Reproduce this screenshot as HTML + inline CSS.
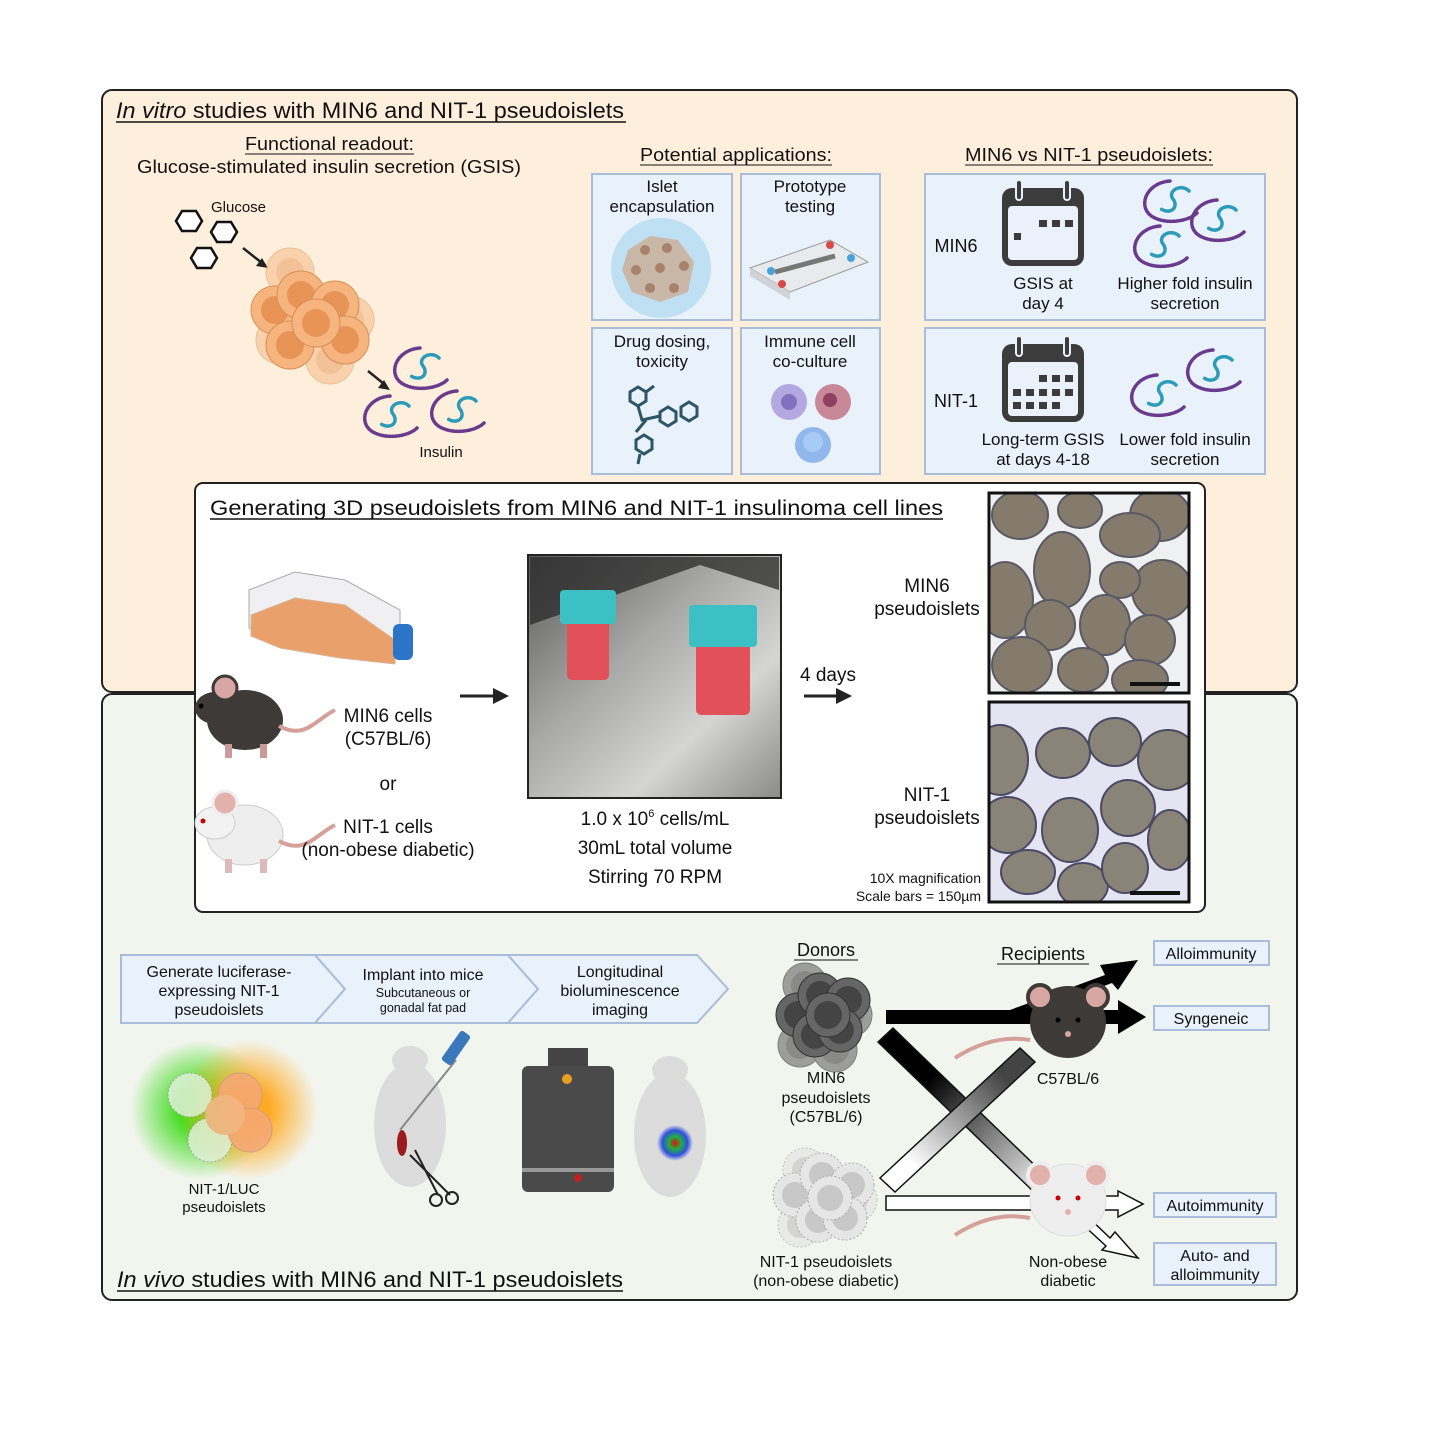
<!DOCTYPE html>
<html><head><meta charset="utf-8"><style>
html,body{margin:0;padding:0;background:#fff}
svg{display:block}
text{font-family:"Liberation Sans",Arial,sans-serif;fill:#111}
</style></head><body>
<svg width="1430" height="1430" viewBox="0 0 1430 1430" xmlns="http://www.w3.org/2000/svg">
<defs>
<clipPath id="c1"><rect x="989" y="493" width="200" height="200"/></clipPath>
<clipPath id="c2"><rect x="989" y="702" width="200" height="200"/></clipPath>
<g id="ins">
 <path d="M-5,-22 C-30,-20 -38,5 -22,14 C-8,22 14,18 22,10" fill="none" stroke="#6a3a8c" stroke-width="3.5" stroke-dasharray="1.6 1.6" stroke-linecap="round"/>
 <path d="M14,-12 C6,-20 -8,-12 -2,-4 C4,4 -4,12 -14,6" fill="none" stroke="#2a9bb8" stroke-width="3.5" stroke-dasharray="1.6 1.4" stroke-linecap="round"/>
</g>
<g id="cell"><circle r="24" fill="#f6b47e" stroke="#d98e55" stroke-width="1"/><circle r="14" fill="#e89457"/></g>
<g id="gcell"><circle r="22" fill="#666" stroke="#333" stroke-width="1"/><circle r="14" fill="#444"/></g>
<g id="wcell"><circle r="22" fill="#e6e6e6" stroke="#aaa" stroke-width="1" stroke-dasharray="2 2"/><circle r="13" fill="#c8c8c8"/></g>
<g id="mouseD">
 <ellipse cx="0" cy="0" rx="38" ry="30" fill="#3e3a38"/>
 <ellipse cx="-30" cy="-12" rx="20" ry="16" fill="#3e3a38"/>
 <circle cx="-20" cy="-32" r="12" fill="#d9a7a3" stroke="#3e3a38" stroke-width="3"/>
 <circle cx="-44" cy="-14" r="2.5" fill="#000"/>
 <path d="M34,6 C60,20 70,0 90,-10" fill="none" stroke="#d6a09a" stroke-width="4"/>
 <rect x="-20" y="24" width="7" height="14" fill="#c99"/><rect x="15" y="24" width="7" height="14" fill="#c99"/>
</g>
<g id="mouseW">
 <ellipse cx="0" cy="0" rx="38" ry="30" fill="#eee" stroke="#ccc"/>
 <ellipse cx="-30" cy="-12" rx="20" ry="16" fill="#f2f2f2" stroke="#ccc"/>
 <circle cx="-20" cy="-32" r="12" fill="#e2b1ac" stroke="#eee" stroke-width="3"/>
 <circle cx="-42" cy="-14" r="2.5" fill="#c00"/>
 <path d="M34,6 C60,20 70,0 90,-10" fill="none" stroke="#d6a09a" stroke-width="4"/>
 <rect x="-20" y="24" width="7" height="14" fill="#dbb"/><rect x="15" y="24" width="7" height="14" fill="#dbb"/>
</g>
<g id="mouseF">
 <ellipse cx="0" cy="5" rx="44" ry="42"/>
 <circle cx="-30" cy="-30" r="14" fill="#d9a7a3" stroke="inherit" stroke-width="4"/>
 <circle cx="30" cy="-30" r="14" fill="#d9a7a3" stroke-width="4"/>
 <path d="M-40,20 C-80,10 -100,30 -115,40" fill="none" stroke="#d6a09a" stroke-width="4"/>
</g>
<g id="cal">
 <rect x="0" y="8" width="82" height="78" rx="10" fill="#3c3c3c"/>
 <rect x="6" y="26" width="70" height="54" rx="4" fill="#eaf1fb"/>
 <rect x="14" y="0" width="6" height="20" rx="3" fill="#3c3c3c" stroke="#eaf1fb" stroke-width="2"/>
 <rect x="62" y="0" width="6" height="20" rx="3" fill="#3c3c3c" stroke="#eaf1fb" stroke-width="2"/>
</g>
<linearGradient id="bw" x1="0" y1="0" x2="1" y2="1"><stop offset="0.3" stop-color="#000"/><stop offset="1" stop-color="#fff"/></linearGradient>
<linearGradient id="wb" x1="0" y1="1" x2="1" y2="0"><stop offset="0.2" stop-color="#fff"/><stop offset="0.8" stop-color="#444"/></linearGradient>
<radialGradient id="green"><stop offset="0.3" stop-color="#44dd22"/><stop offset="1" stop-color="#44dd22" stop-opacity="0"/></radialGradient>
<radialGradient id="orange"><stop offset="0.3" stop-color="#ffaa22"/><stop offset="1" stop-color="#ffaa22" stop-opacity="0"/></radialGradient>
<radialGradient id="biolum"><stop offset="0" stop-color="#e01010"/><stop offset="0.35" stop-color="#20b040"/><stop offset="0.7" stop-color="#3050e0"/><stop offset="1" stop-color="#3050e0" stop-opacity="0"/></radialGradient>
<linearGradient id="photo" x1="0" y1="0" x2="1" y2="1"><stop offset="0" stop-color="#5a5a5a"/><stop offset="0.4" stop-color="#a8a8a6"/><stop offset="0.7" stop-color="#d5d5d3"/><stop offset="1" stop-color="#8a8a88"/></linearGradient>
</defs>

<rect x="102" y="90" width="1195" height="602" rx="10" fill="#feefdc" stroke="#222" stroke-width="2"/>
<rect x="102" y="694" width="1195" height="606" rx="10" fill="#f2f5ee" stroke="#222" stroke-width="2"/>

<text x="116" y="118" font-size="22" textLength="508" lengthAdjust="spacingAndGlyphs"><tspan font-style="italic">In vitro</tspan> studies with MIN6 and NIT-1 pseudoislets</text>
<line x1="116" y1="122" x2="626" y2="122" stroke="#111" stroke-width="1.5"/>

<text x="245" y="150" font-size="18" textLength="169" lengthAdjust="spacingAndGlyphs">Functional readout:</text>
<line x1="245" y1="154" x2="414" y2="154" stroke="#111" stroke-width="1"/>
<text x="137" y="173" font-size="18" textLength="384" lengthAdjust="spacingAndGlyphs">Glucose-stimulated insulin secretion (GSIS)</text>

<text x="211" y="212" font-size="15">Glucose</text>
<g fill="#fff" stroke="#111" stroke-width="2.5">
<polygon points="176,221 182,211 196,211 202,221 196,231 182,231"/>
<polygon points="211,232 217,222 231,222 237,232 231,242 217,242"/>
<polygon points="191,258 197,248 211,248 217,258 211,268 197,268"/>
</g>
<line x1="243" y1="248" x2="262" y2="263" stroke="#222" stroke-width="2.5"/>
<polygon points="268,268 256,266 262,258" fill="#222"/>

<g opacity="0.5"><use href="#cell" x="290" y="272"/><use href="#cell" x="350" y="320"/><use href="#cell" x="280" y="340"/><use href="#cell" x="330" y="360"/></g>
<use href="#cell" x="275" y="310"/><use href="#cell" x="301" y="295"/><use href="#cell" x="335" y="305"/>
<use href="#cell" x="290" y="345"/><use href="#cell" x="345" y="340"/><use href="#cell" x="316" y="323"/>

<line x1="368" y1="371" x2="384" y2="384" stroke="#222" stroke-width="2.5"/>
<polygon points="390,390 378,388 384,380" fill="#222"/>
<use href="#ins" x="425" y="370"/><use href="#ins" x="395" y="418"/><use href="#ins" x="462" y="413"/>
<text x="441" y="457" font-size="15" text-anchor="middle">Insulin</text>

<text x="640" y="161" font-size="18" textLength="192" lengthAdjust="spacingAndGlyphs">Potential applications:</text>
<line x1="640" y1="165" x2="832" y2="165" stroke="#111" stroke-width="1"/>
<g fill="#e9f1fb" stroke="#a9bcd9" stroke-width="2">
<rect x="592" y="174" width="140" height="146"/><rect x="741" y="174" width="139" height="146"/>
<rect x="592" y="328" width="140" height="146"/><rect x="741" y="328" width="139" height="146"/>
<rect x="925" y="174" width="340" height="146"/><rect x="925" y="328" width="340" height="146"/>
</g>
<g font-size="17" text-anchor="middle">
<text x="662" y="192">Islet</text><text x="662" y="212">encapsulation</text>
<text x="810" y="192">Prototype</text><text x="810" y="212">testing</text>
<text x="662" y="347">Drug dosing,</text><text x="662" y="367">toxicity</text>
<text x="810" y="347">Immune cell</text><text x="810" y="367">co-culture</text>
</g>
<circle cx="661" cy="268" r="50" fill="#bfe0f3"/>
<polygon points="628,250 650,236 678,240 694,262 688,292 660,302 632,292 622,270" fill="#c9b8a8"/>
<g fill="#a8826a"><circle cx="645" cy="250" r="5"/><circle cx="667" cy="248" r="5"/><circle cx="636" cy="270" r="5"/><circle cx="660" cy="268" r="5"/><circle cx="684" cy="266" r="5"/><circle cx="650" cy="288" r="5"/><circle cx="674" cy="288" r="5"/></g>
<polygon points="750,268 830,240 868,262 790,292" fill="#e8eaee" stroke="#999"/>
<polygon points="750,268 790,292 790,300 750,276" fill="#d0d3d8"/>
<line x1="775" y1="272" x2="835" y2="256" stroke="#777" stroke-width="5"/>
<circle cx="771" cy="271" r="4" fill="#4aa3d8"/><circle cx="782" cy="284" r="4" fill="#d84a4a"/><circle cx="830" cy="245" r="4" fill="#d84a4a"/><circle cx="851" cy="258" r="4" fill="#4aa3d8"/>
<g fill="none" stroke="#2d5566" stroke-width="3">
<polygon points="630,392 638,387 646,392 646,401 638,406 630,401"/>
<polygon points="660,412 668,407 676,412 676,421 668,426 660,421"/>
<polygon points="681,407 689,402 697,407 697,416 689,421 681,416"/>
<polygon points="636,440 644,435 652,440 652,449 644,454 636,449"/>
<path d="M638,406 L642,420 L660,416 M646,420 L636,432 M640,454 L638,464 M646,392 L654,386"/>
</g>
<circle cx="789" cy="402" r="18" fill="#b4a8e0"/><circle cx="789" cy="402" r="8" fill="#8070c0"/>
<circle cx="833" cy="402" r="18" fill="#c88898"/><circle cx="830" cy="400" r="7" fill="#904060"/>
<circle cx="813" cy="445" r="18" fill="#90b8ec"/><circle cx="813" cy="442" r="10" fill="#a8cbf5"/>

<text x="965" y="161" font-size="18" textLength="248" lengthAdjust="spacingAndGlyphs">MIN6 vs NIT-1 pseudoislets:</text>
<line x1="965" y1="165" x2="1213" y2="165" stroke="#111" stroke-width="1"/>
<text x="956" y="252" font-size="18" text-anchor="middle">MIN6</text>
<text x="956" y="407" font-size="18" text-anchor="middle">NIT-1</text>
<use href="#cal" x="1002" y="180"/>
<g fill="#3c3c3c"><rect x="1039" y="220" width="8" height="7"/><rect x="1052" y="220" width="8" height="7"/><rect x="1065" y="220" width="8" height="7"/><rect x="1014" y="233" width="7" height="7"/></g>
<use href="#cal" x="1002" y="336"/>
<g fill="#3c3c3c">
<rect x="1039" y="375" width="8" height="7"/><rect x="1052" y="375" width="8" height="7"/><rect x="1065" y="375" width="8" height="7"/>
<rect x="1013" y="389" width="8" height="7"/><rect x="1026" y="389" width="8" height="7"/><rect x="1039" y="389" width="8" height="7"/><rect x="1052" y="389" width="8" height="7"/><rect x="1065" y="389" width="8" height="7"/>
<rect x="1013" y="402" width="8" height="7"/><rect x="1026" y="402" width="8" height="7"/><rect x="1039" y="402" width="8" height="7"/><rect x="1052" y="402" width="8" height="7"/>
</g>
<g font-size="17" text-anchor="middle">
<text x="1043" y="289">GSIS at</text><text x="1043" y="309">day 4</text>
<text x="1185" y="289">Higher fold insulin</text><text x="1185" y="309">secretion</text>
<text x="1043" y="445">Long-term GSIS</text><text x="1043" y="465">at days 4-18</text>
<text x="1185" y="445">Lower fold insulin</text><text x="1185" y="465">secretion</text>
</g>
<use href="#ins" x="1175" y="203"/><use href="#ins" x="1222" y="222"/><use href="#ins" x="1165" y="248"/>
<use href="#ins" x="1218" y="372"/><use href="#ins" x="1162" y="397"/>

<rect x="195" y="483" width="1010" height="429" rx="8" fill="#fff" stroke="#222" stroke-width="2"/>
<text x="210" y="515" font-size="21" textLength="733" lengthAdjust="spacingAndGlyphs">Generating 3D pseudoislets from MIN6 and NIT-1 insulinoma cell lines</text>
<line x1="210" y1="519" x2="943" y2="519" stroke="#111" stroke-width="1.5"/>

<polygon points="249,590 295,572 345,580 400,610 400,656 340,650 265,637 249,628" fill="#f0f0f2" stroke="#aaa"/>
<polygon points="251,615 295,598 345,605 395,640 395,664 340,658 280,648 251,636" fill="#e9a06a" stroke="#d7b59a"/>
<rect x="393" y="624" width="20" height="36" rx="6" fill="#2c74c8"/>

<use href="#mouseD" x="245" y="720"/>
<use href="#mouseW" x="245" y="835"/>
<g font-size="19" text-anchor="middle">
<text x="388" y="722">MIN6 cells</text><text x="388" y="745">(C57BL/6)</text>
<text x="388" y="790">or</text>
<text x="388" y="833">NIT-1 cells</text><text x="388" y="856">(non-obese diabetic)</text>
</g>
<line x1="460" y1="696" x2="495" y2="696" stroke="#222" stroke-width="3"/>
<polygon points="509,696 493,688 493,704" fill="#222"/>

<rect x="528" y="555" width="253" height="243" fill="url(#photo)" stroke="#222" stroke-width="2"/>
<polygon points="530,557 779,557 779,590 700,565 530,625" fill="#2a2a2a" opacity="0.75"/>
<rect x="567" y="618" width="42" height="62" rx="5" fill="#e2505a"/>
<rect x="560" y="590" width="56" height="34" rx="4" fill="#3cc0c4"/>
<rect x="696" y="640" width="54" height="75" rx="5" fill="#e2505a"/>
<rect x="689" y="605" width="68" height="42" rx="4" fill="#3cc0c4"/>
<g font-size="19" text-anchor="middle">
<text x="655" y="825">1.0 x 10<tspan font-size="11" dy="-8">6</tspan><tspan dy="8"> cells/mL</tspan></text>
<text x="655" y="854">30mL total volume</text>
<text x="655" y="883">Stirring 70 RPM</text>
</g>
<text x="828" y="681" font-size="19" text-anchor="middle">4 days</text>
<line x1="804" y1="696" x2="838" y2="696" stroke="#222" stroke-width="3"/>
<polygon points="852,696 836,688 836,704" fill="#222"/>
<g font-size="19" text-anchor="middle">
<text x="927" y="592">MIN6</text><text x="927" y="615">pseudoislets</text>
<text x="927" y="801">NIT-1</text><text x="927" y="824">pseudoislets</text>
</g>
<text x="981" y="883" font-size="14" text-anchor="end">10X magnification</text>
<text x="981" y="901" font-size="14" text-anchor="end">Scale bars = 150µm</text>

<rect x="989" y="493" width="200" height="200" fill="#eef0f2"/>
<g clip-path="url(#c1)" fill="#857b6c" stroke="#5a5a66" stroke-width="2">
<ellipse cx="1020" cy="515" rx="28" ry="24"/><ellipse cx="1080" cy="510" rx="22" ry="18"/><ellipse cx="1160" cy="515" rx="30" ry="26"/>
<ellipse cx="1130" cy="535" rx="30" ry="22"/><ellipse cx="1062" cy="570" rx="28" ry="38"/><ellipse cx="1005" cy="600" rx="28" ry="38"/>
<ellipse cx="1162" cy="590" rx="30" ry="30"/><ellipse cx="1120" cy="580" rx="20" ry="18"/><ellipse cx="1050" cy="625" rx="25" ry="25"/>
<ellipse cx="1105" cy="625" rx="25" ry="30"/><ellipse cx="1150" cy="640" rx="25" ry="25"/><ellipse cx="1022" cy="665" rx="30" ry="28"/>
<ellipse cx="1083" cy="670" rx="25" ry="22"/><ellipse cx="1140" cy="680" rx="28" ry="20"/>
</g>
<rect x="989" y="493" width="200" height="200" fill="none" stroke="#111" stroke-width="3"/>
<rect x="1130" y="682" width="50" height="4" fill="#111"/>
<rect x="989" y="702" width="200" height="200" fill="#e4e4f2"/>
<g clip-path="url(#c2)" fill="#8a8478" stroke="#4a4a66" stroke-width="2">
<ellipse cx="1000" cy="760" rx="28" ry="35"/><ellipse cx="1063" cy="753" rx="27" ry="25"/><ellipse cx="1115" cy="742" rx="26" ry="24"/>
<ellipse cx="1168" cy="760" rx="30" ry="30"/><ellipse cx="1070" cy="830" rx="28" ry="32"/><ellipse cx="1008" cy="825" rx="28" ry="28"/>
<ellipse cx="1128" cy="808" rx="27" ry="28"/><ellipse cx="1170" cy="840" rx="22" ry="30"/><ellipse cx="1028" cy="872" rx="27" ry="22"/>
<ellipse cx="1083" cy="885" rx="25" ry="22"/><ellipse cx="1125" cy="868" rx="23" ry="25"/>
</g>
<rect x="989" y="702" width="200" height="200" fill="none" stroke="#111" stroke-width="3"/>
<rect x="1130" y="891" width="50" height="4" fill="#111"/>

<g fill="#e9f1fb" stroke="#a9bcd9" stroke-width="2">
<polygon points="121,955 315,955 345,989 315,1023 121,1023"/>
<polygon points="315,955 508,955 538,989 508,1023 315,1023 345,989"/>
<polygon points="508,955 697,955 728,989 697,1023 508,1023 538,989"/>
</g>
<g text-anchor="middle">
<text x="219" y="977" font-size="16">Generate luciferase-</text><text x="219" y="996" font-size="16">expressing NIT-1</text><text x="219" y="1015" font-size="16">pseudoislets</text>
<text x="423" y="980" font-size="16">Implant into mice</text><text x="423" y="997" font-size="12.5">Subcutaneous or</text><text x="423" y="1012" font-size="12.5">gonadal fat pad</text>
<text x="620" y="977" font-size="16">Longitudinal</text><text x="620" y="996" font-size="16">bioluminescence</text><text x="620" y="1015" font-size="16">imaging</text>
</g>

<circle cx="200" cy="1110" r="70" fill="url(#green)"/>
<circle cx="248" cy="1110" r="70" fill="url(#orange)"/>
<g opacity="0.85">
<circle cx="190" cy="1095" r="22" fill="#dff0d8" stroke="#999" stroke-dasharray="2 2"/><circle cx="210" cy="1140" r="22" fill="#dff0d8" stroke="#999" stroke-dasharray="2 2"/>
<circle cx="240" cy="1095" r="22" fill="#f5a878" stroke="#c98"/><circle cx="250" cy="1130" r="22" fill="#f5a878" stroke="#c98"/><circle cx="225" cy="1115" r="20" fill="#f0b890"/>
</g>
<text x="224" y="1194" font-size="15" text-anchor="middle">NIT-1/LUC</text><text x="224" y="1212" font-size="15" text-anchor="middle">pseudoislets</text>

<ellipse cx="410" cy="1125" rx="36" ry="62" fill="#dcdcdc"/>
<ellipse cx="410" cy="1060" rx="18" ry="14" fill="#dcdcdc"/>
<ellipse cx="402" cy="1143" rx="5" ry="13" fill="#9a1c1c"/>
<line x1="400" y1="1130" x2="456" y2="1060" stroke="#888" stroke-width="2"/>
<rect x="450" y="1030" width="12" height="36" rx="3" fill="#3a78bc" transform="rotate(35 456 1048)"/>
<path d="M410,1155 L450,1195 M415,1150 L438,1195" stroke="#222" stroke-width="2"/>
<circle cx="452" cy="1198" r="6" fill="none" stroke="#222" stroke-width="2"/><circle cx="436" cy="1200" r="6" fill="none" stroke="#222" stroke-width="2"/>

<rect x="548" y="1048" width="40" height="20" fill="#444"/>
<rect x="522" y="1066" width="92" height="126" rx="6" fill="#4a4a4a"/>
<circle cx="567" cy="1079" r="5" fill="#e8a020"/>
<rect x="522" y="1168" width="92" height="4" fill="#999"/>
<circle cx="578" cy="1178" r="4" fill="#c02020"/>
<ellipse cx="670" cy="1135" rx="36" ry="62" fill="#dcdcdc"/>
<ellipse cx="670" cy="1070" rx="18" ry="14" fill="#dcdcdc"/>
<circle cx="675" cy="1143" r="18" fill="url(#biolum)"/>

<text x="117" y="1287" font-size="22" textLength="506" lengthAdjust="spacingAndGlyphs"><tspan font-style="italic">In vivo</tspan> studies with MIN6 and NIT-1 pseudoislets</text>
<line x1="117" y1="1291" x2="623" y2="1291" stroke="#111" stroke-width="1.5"/>

<text x="826" y="956" font-size="18" text-anchor="middle">Donors</text>
<line x1="794" y1="960" x2="858" y2="960" stroke="#111" stroke-width="1"/>
<text x="1043" y="960" font-size="18" text-anchor="middle">Recipients</text>
<line x1="997" y1="964" x2="1089" y2="964" stroke="#111" stroke-width="1"/>

<g opacity="0.6"><use href="#gcell" x="805" y="985"/><use href="#gcell" x="850" y="1015"/><use href="#gcell" x="800" y="1045"/><use href="#gcell" x="835" y="1050"/></g>
<use href="#gcell" x="798" y="1015"/><use href="#gcell" x="820" y="995"/><use href="#gcell" x="848" y="1000"/><use href="#gcell" x="815" y="1035"/><use href="#gcell" x="840" y="1030"/><use href="#gcell" x="828" y="1015"/>
<g font-size="16" text-anchor="middle"><text x="826" y="1083">MIN6</text><text x="826" y="1103">pseudoislets</text><text x="826" y="1122">(C57BL/6)</text></g>

<g opacity="0.7"><use href="#wcell" x="805" y="1170"/><use href="#wcell" x="855" y="1200"/><use href="#wcell" x="800" y="1225"/></g>
<use href="#wcell" x="795" y="1195"/><use href="#wcell" x="822" y="1175"/><use href="#wcell" x="852" y="1185"/><use href="#wcell" x="818" y="1220"/><use href="#wcell" x="845" y="1218"/><use href="#wcell" x="830" y="1198"/>
<g font-size="16" text-anchor="middle"><text x="826" y="1267">NIT-1 pseudoislets</text><text x="826" y="1286">(non-obese diabetic)</text></g>

<polygon points="878,1042 893,1028 1050,1180 1036,1194" fill="url(#bw)" stroke="#111" stroke-width="1.5"/>
<polygon points="880,1178 895,1192 1035,1062 1020,1048" fill="url(#wb)" stroke="#111" stroke-width="1.5"/>
<polygon points="886,1010 1118,1010 1118,1000 1146,1017 1118,1034 1118,1024 886,1024" fill="#000"/>
<polygon points="1010,1010 1105,975 1100,965 1138,960 1118,990 1112,983 1018,1018" fill="#000"/>
<polygon points="886,1196 1118,1196 1118,1191 1143,1204 1118,1217 1118,1210 886,1210" fill="#fff" stroke="#111" stroke-width="1.5"/>
<polygon points="1060,1190 1110,1238 1115,1232 1138,1258 1102,1250 1106,1246 1054,1198" fill="#fff" stroke="#111" stroke-width="1.5"/>

<!-- front-facing recipient mice -->
<path d="M1030,1040 C1000,1035 975,1045 955,1058" fill="none" stroke="#d6a09a" stroke-width="4"/>
<ellipse cx="1068" cy="1022" rx="38" ry="36" fill="#3e3a38"/>
<circle cx="1040" cy="997" r="12" fill="#d9a7a3" stroke="#3e3a38" stroke-width="4"/>
<circle cx="1096" cy="997" r="12" fill="#d9a7a3" stroke="#3e3a38" stroke-width="4"/>
<circle cx="1058" cy="1020" r="2.5" fill="#000"/><circle cx="1078" cy="1020" r="2.5" fill="#000"/><circle cx="1068" cy="1034" r="3" fill="#d9a7a3"/>
<path d="M1030,1218 C1000,1212 975,1222 955,1235" fill="none" stroke="#d6a09a" stroke-width="4"/>
<ellipse cx="1068" cy="1200" rx="38" ry="36" fill="#eeeeee" stroke="#ddd"/>
<circle cx="1040" cy="1175" r="12" fill="#e2b1ac" stroke="#eee" stroke-width="4"/>
<circle cx="1096" cy="1175" r="12" fill="#e2b1ac" stroke="#eee" stroke-width="4"/>
<circle cx="1058" cy="1198" r="2.5" fill="#c00"/><circle cx="1078" cy="1198" r="2.5" fill="#c00"/><circle cx="1068" cy="1212" r="3" fill="#e2b1ac"/>

<text x="1068" y="1084" font-size="16" text-anchor="middle">C57BL/6</text>
<text x="1068" y="1267" font-size="16" text-anchor="middle">Non-obese</text><text x="1068" y="1286" font-size="16" text-anchor="middle">diabetic</text>

<g fill="#e9f1fb" stroke="#a9bcd9" stroke-width="2">
<rect x="1154" y="941" width="115" height="24"/><rect x="1154" y="1006" width="115" height="24"/>
<rect x="1154" y="1193" width="122" height="24"/><rect x="1154" y="1243" width="122" height="42"/>
</g>
<g font-size="16" text-anchor="middle">
<text x="1211" y="959">Alloimmunity</text><text x="1211" y="1024">Syngeneic</text>
<text x="1215" y="1211">Autoimmunity</text><text x="1215" y="1261">Auto- and</text><text x="1215" y="1280">alloimmunity</text>
</g>
</svg>
</body></html>
